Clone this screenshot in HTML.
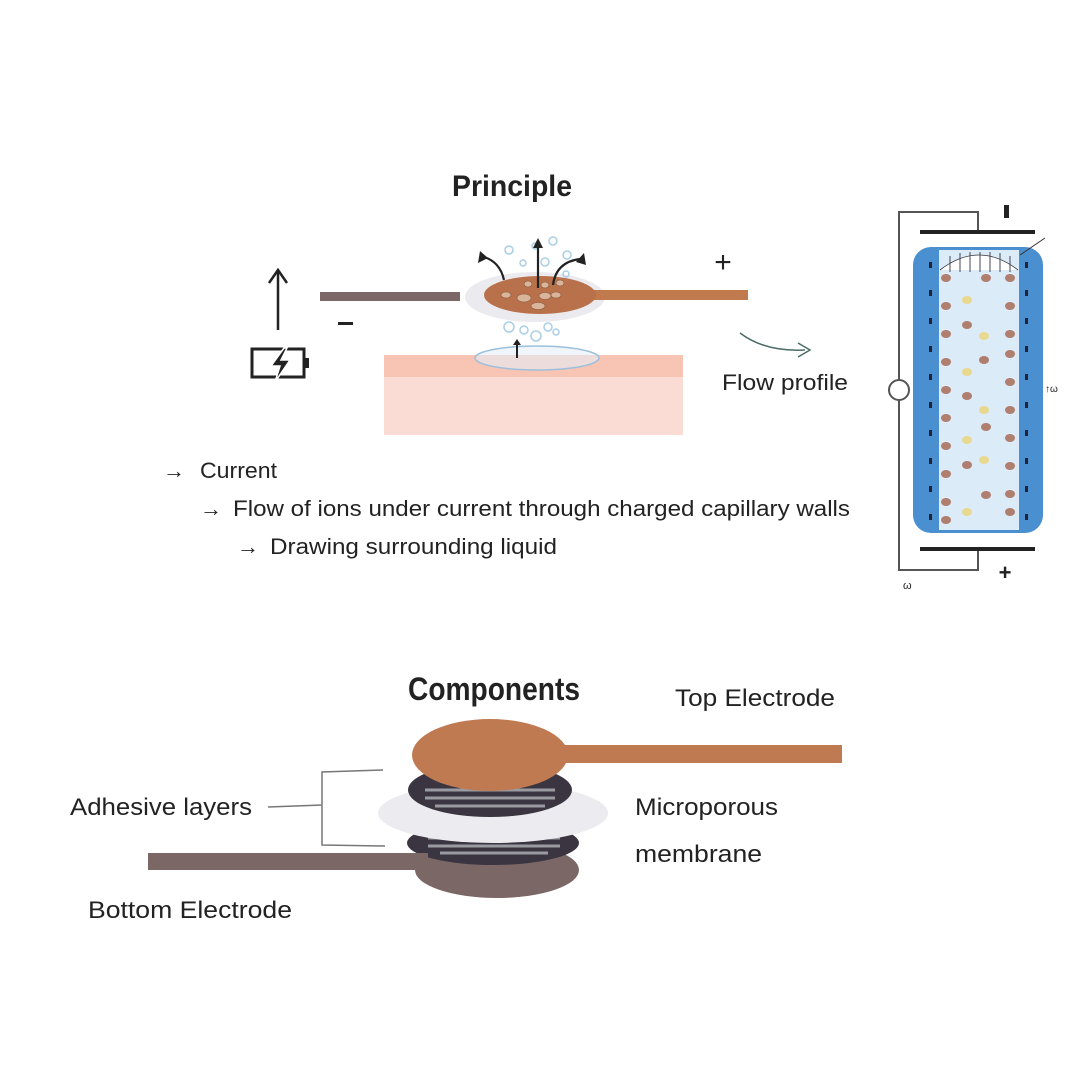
<!DOCTYPE html>
<html><head><meta charset="utf-8"><style>
html,body{margin:0;padding:0;background:#fff}
svg{display:block}
text{font-family:"Liberation Sans",sans-serif;fill:#222}
</style></head><body>
<svg width="1080" height="1080" viewBox="0 0 1080 1080" xmlns="http://www.w3.org/2000/svg">
<rect width="1080" height="1080" fill="#fff"/>
<!-- Principle -->
<text x="452" y="196" font-size="30" font-weight="bold" textLength="120" lengthAdjust="spacingAndGlyphs">Principle</text>
<!-- skin -->
<rect x="384" y="355" width="299" height="80" fill="#fbdcd4"/>
<rect x="384" y="355" width="299" height="22" fill="#f8c4b4"/>
<ellipse cx="537" cy="358" rx="62" ry="12" fill="#e4eef6" fill-opacity="0.6" stroke="#9cc0dc" stroke-width="1.5"/>
<line x1="517" y1="358" x2="517" y2="342" stroke="#222" stroke-width="2"/>
<path d="M513 345 L517 339 L521 345Z" fill="#222"/>
<!-- electrodes -->
<rect x="320" y="292" width="140" height="9" fill="#7b6866"/>
<ellipse cx="535" cy="297" rx="70" ry="25" fill="#ebebef"/>
<rect x="590" y="290" width="158" height="10" fill="#c07a4e"/>
<ellipse cx="540" cy="295" rx="56" ry="19" fill="#b8714a"/>
<g fill="#d9b59c" stroke="#8a5a3a" stroke-width="0.6">
<ellipse cx="506" cy="295" rx="5" ry="3"/><ellipse cx="524" cy="298" rx="7" ry="4"/><ellipse cx="545" cy="296" rx="6" ry="3.5"/><ellipse cx="556" cy="295" rx="5" ry="3"/><ellipse cx="528" cy="284" rx="4" ry="3"/><ellipse cx="545" cy="285" rx="4" ry="3"/><ellipse cx="560" cy="283" rx="4" ry="3"/><ellipse cx="538" cy="306" rx="7" ry="3.5"/>
</g>
<g fill="none" stroke="#a9cfe6" stroke-width="1.5">
<circle cx="509" cy="250" r="4"/><circle cx="535" cy="246" r="3"/><circle cx="553" cy="241" r="4"/><circle cx="567" cy="255" r="4"/><circle cx="523" cy="263" r="3"/><circle cx="545" cy="262" r="4"/><circle cx="566" cy="274" r="3"/>
<circle cx="509" cy="327" r="5"/><circle cx="524" cy="330" r="4"/><circle cx="536" cy="336" r="5"/><circle cx="548" cy="327" r="4"/><circle cx="556" cy="332" r="3"/>
</g>
<g fill="none" stroke="#222" stroke-width="2.2">
<line x1="538" y1="288" x2="538" y2="245"/>
<path d="M504 280 Q500 262 484 257"/>
<path d="M553 285 Q556 262 580 259"/>
</g>
<path d="M533 248 L538 238 L543 248Z" fill="#222"/>
<path d="M480 251 L478 263 L488 258Z" fill="#222"/>
<path d="M584 253 L586 265 L576 262Z" fill="#222"/>
<text x="723" y="272" font-size="30" text-anchor="middle">+</text>
<rect x="338" y="322" width="15" height="3" fill="#222"/>
<!-- arrow & battery -->
<line x1="278" y1="330" x2="278" y2="272" stroke="#222" stroke-width="2.5"/>
<path d="M269 283 L278 270 L287 283" fill="none" stroke="#222" stroke-width="2.5"/>
<rect x="252" y="349" width="52" height="28" fill="none" stroke="#222" stroke-width="3"/>
<rect x="304" y="358" width="5" height="10" fill="#222"/>
<path d="M284 348 L271 366 L280 366 L275 382 L290 360 L281 360 L287 348Z" fill="#222" stroke="#fff" stroke-width="1.5"/>
<!-- flow profile arrow -->
<path d="M740 333 Q765 352 805 350" fill="none" stroke="#4a6b66" stroke-width="1.5"/>
<path d="M798 343 L810 350 L798 357" fill="none" stroke="#4a6b66" stroke-width="1.5"/>
<text x="722" y="390" font-size="22" textLength="126" lengthAdjust="spacingAndGlyphs">Flow profile</text>
<!-- text lines -->
<text x="163" y="478" font-size="22">→</text>
<text x="200" y="478" font-size="22" textLength="77" lengthAdjust="spacingAndGlyphs">Current</text>
<text x="200" y="516" font-size="22">→</text>
<text x="233" y="516" font-size="22" textLength="617" lengthAdjust="spacingAndGlyphs">Flow of ions under current through charged capillary walls</text>
<text x="237" y="554" font-size="22">→</text>
<text x="270" y="554" font-size="22" textLength="287" lengthAdjust="spacingAndGlyphs">Drawing surrounding liquid</text>
<!-- capillary -->
<path d="M978 232 V212 H899 V570 H978 V549" fill="none" stroke="#555" stroke-width="2"/>
<rect x="920" y="230" width="115" height="4" fill="#222"/>
<rect x="920" y="547" width="115" height="4" fill="#222"/>
<rect x="1004" y="205" width="5" height="13" fill="#222"/>
<text x="1005" y="580" font-size="22" font-weight="bold" text-anchor="middle">+</text>
<text x="903" y="589" font-size="11">ω</text>
<rect x="913" y="247" width="130" height="286" rx="18" fill="#4a90d0"/>
<rect x="939" y="250" width="80" height="280" fill="#dcebf8"/>
<path d="M940 270 Q979 240 1018 270" fill="#fff" stroke="#333" stroke-width="0.8"/>
<g stroke="#445" stroke-width="1"><line x1="950" y1="256" x2="950" y2="272"/><line x1="960" y1="253" x2="960" y2="272"/><line x1="970" y1="252" x2="970" y2="272"/><line x1="980" y1="252" x2="980" y2="272"/><line x1="990" y1="252" x2="990" y2="272"/><line x1="1000" y1="253" x2="1000" y2="272"/><line x1="1010" y1="256" x2="1010" y2="272"/></g>
<line x1="1020" y1="255" x2="1045" y2="238" stroke="#333" stroke-width="1"/>
<circle cx="899" cy="390" r="10" fill="#fff" stroke="#555" stroke-width="2"/>
<text x="1045" y="392" font-size="10">↑ω</text>
<g fill="#223">
<rect x="929" y="262" width="3" height="6"/><rect x="929" y="290" width="3" height="6"/><rect x="929" y="318" width="3" height="6"/><rect x="929" y="346" width="3" height="6"/><rect x="929" y="374" width="3" height="6"/><rect x="929" y="402" width="3" height="6"/><rect x="929" y="430" width="3" height="6"/><rect x="929" y="458" width="3" height="6"/><rect x="929" y="486" width="3" height="6"/><rect x="929" y="514" width="3" height="6"/>
<rect x="1025" y="262" width="3" height="6"/><rect x="1025" y="290" width="3" height="6"/><rect x="1025" y="318" width="3" height="6"/><rect x="1025" y="346" width="3" height="6"/><rect x="1025" y="374" width="3" height="6"/><rect x="1025" y="402" width="3" height="6"/><rect x="1025" y="430" width="3" height="6"/><rect x="1025" y="458" width="3" height="6"/><rect x="1025" y="486" width="3" height="6"/><rect x="1025" y="514" width="3" height="6"/>
</g>
<g fill="#b07e6e">
<ellipse cx="946" cy="278" rx="5" ry="4"/><ellipse cx="946" cy="306" rx="5" ry="4"/><ellipse cx="946" cy="334" rx="5" ry="4"/><ellipse cx="946" cy="362" rx="5" ry="4"/><ellipse cx="946" cy="390" rx="5" ry="4"/><ellipse cx="946" cy="418" rx="5" ry="4"/><ellipse cx="946" cy="446" rx="5" ry="4"/><ellipse cx="946" cy="474" rx="5" ry="4"/><ellipse cx="946" cy="502" rx="5" ry="4"/><ellipse cx="946" cy="520" rx="5" ry="4"/>
<ellipse cx="1010" cy="278" rx="5" ry="4"/><ellipse cx="1010" cy="306" rx="5" ry="4"/><ellipse cx="1010" cy="334" rx="5" ry="4"/><ellipse cx="1010" cy="354" rx="5" ry="4"/><ellipse cx="1010" cy="382" rx="5" ry="4"/><ellipse cx="1010" cy="410" rx="5" ry="4"/><ellipse cx="1010" cy="438" rx="5" ry="4"/><ellipse cx="1010" cy="466" rx="5" ry="4"/><ellipse cx="1010" cy="494" rx="5" ry="4"/><ellipse cx="1010" cy="512" rx="5" ry="4"/>
<ellipse cx="986" cy="278" rx="5" ry="4"/><ellipse cx="967" cy="325" rx="5" ry="4"/><ellipse cx="984" cy="360" rx="5" ry="4"/><ellipse cx="967" cy="396" rx="5" ry="4"/><ellipse cx="986" cy="427" rx="5" ry="4"/><ellipse cx="967" cy="465" rx="5" ry="4"/><ellipse cx="986" cy="495" rx="5" ry="4"/>
</g>
<g fill="#e8d890">
<ellipse cx="967" cy="300" rx="5" ry="4"/><ellipse cx="984" cy="336" rx="5" ry="4"/><ellipse cx="967" cy="372" rx="5" ry="4"/><ellipse cx="984" cy="410" rx="5" ry="4"/><ellipse cx="967" cy="440" rx="5" ry="4"/><ellipse cx="984" cy="460" rx="5" ry="4"/><ellipse cx="967" cy="512" rx="5" ry="4"/>
</g>
<!-- Components -->
<text x="408" y="700" font-size="32" font-weight="bold" textLength="172" lengthAdjust="spacingAndGlyphs">Components</text>
<text x="675" y="706" font-size="24" textLength="160" lengthAdjust="spacingAndGlyphs">Top Electrode</text>
<ellipse cx="497" cy="870" rx="82" ry="28" fill="#7b6866"/>
<ellipse cx="493" cy="843" rx="86" ry="22" fill="#3a3540"/>
<g stroke="#9a9aa2" stroke-width="3"><line x1="428" y1="838" x2="560" y2="838"/><line x1="428" y1="846" x2="560" y2="846"/><line x1="440" y1="853" x2="548" y2="853"/></g>
<rect x="148" y="853" width="280" height="17" fill="#7b6866"/>
<ellipse cx="493" cy="813" rx="115" ry="30" fill="#ececf0"/>
<ellipse cx="490" cy="790" rx="82" ry="27" fill="#3a3540"/>
<g stroke="#9a9aa2" stroke-width="3"><line x1="425" y1="790" x2="555" y2="790"/><line x1="425" y1="798" x2="555" y2="798"/><line x1="435" y1="806" x2="545" y2="806"/></g>
<ellipse cx="490" cy="755" rx="78" ry="36" fill="#bf7a52"/>
<rect x="560" y="745" width="282" height="18" fill="#bf7a52"/>
<path d="M383 770 L322 772 L322 805 L268 807 M322 805 L322 845 L385 846" fill="none" stroke="#777" stroke-width="1.5"/>
<text x="70" y="815" font-size="24" textLength="182" lengthAdjust="spacingAndGlyphs">Adhesive layers</text>
<text x="635" y="815" font-size="24" textLength="143" lengthAdjust="spacingAndGlyphs">Microporous</text>
<text x="635" y="862" font-size="24" textLength="127" lengthAdjust="spacingAndGlyphs">membrane</text>
<text x="88" y="918" font-size="24" textLength="204" lengthAdjust="spacingAndGlyphs">Bottom Electrode</text>
</svg>
</body></html>
